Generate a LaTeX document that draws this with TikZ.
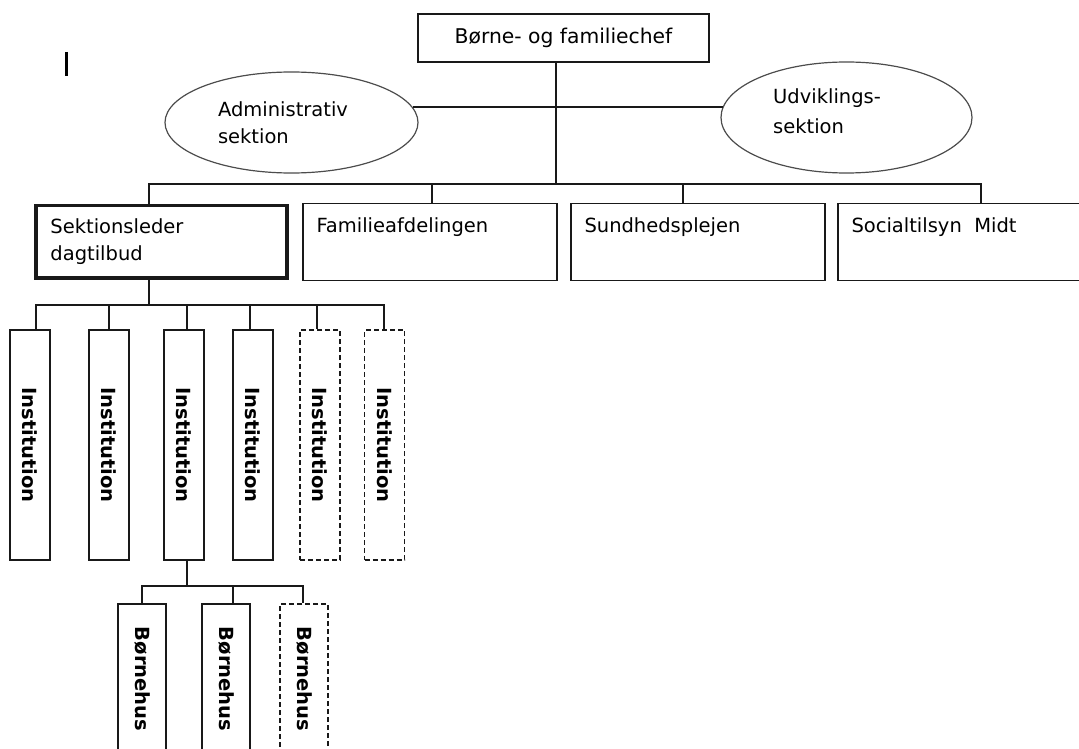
\documentclass[tikz,border=0pt]{standalone}
\usepackage{fontspec}
\setmainfont{DejaVu Sans}
\usepackage{tikz}
\usetikzlibrary{shapes.geometric}

\tikzset{
  link/.style={line width=1.4pt, draw=black!90},
  unit/.style={draw=black!90, line width=1.4pt, minimum width=254pt, minimum height=77pt, inner sep=0pt},
  staff/.style={ellipse, draw=black!70, line width=1.2pt, inner sep=0pt},
  inst/.style={draw=black!90, line width=1.4pt, minimum width=40pt, minimum height=230pt, inner sep=0pt},
  house/.style={draw=black!90, line width=1.4pt, minimum width=48pt, minimum height=150pt, inner sep=0pt},
  planned/.style={dash pattern=on 5pt off 3pt},
  toplft/.style={anchor=north west, align=left, inner sep=0pt, xshift=14pt, yshift=-15pt},
  vert/.style={anchor=center, rotate=-90, inner sep=0pt, font=\fontsize{19.5}{27}\bfseries},
}

\begin{document}
\begin{tikzpicture}[x=1pt, y=-1pt, font=\fontsize{19.5}{27}\selectfont]
  \useasboundingbox (0,0) rectangle (1079,749);
  \draw[line width=3pt] (66.5,52) -- (66.5,76);

  % management and staff
  \path
    (563.5,38) node[unit, minimum width=291pt, minimum height=48pt] (chef) {\fontsize{20.3}{27}\selectfont Børne- og familiechef}
    (291.5,122.5) node[staff, minimum width=253pt, minimum height=101pt,
      label={[anchor=center, align=left, xshift=-8.5pt, yshift=-0.5pt]center:Administrativ\\sektion}] (adm) {}
    (846.5,117.5) node[staff, minimum width=251pt, minimum height=111pt,
      label={[anchor=center, align=left, xshift=-19.5pt, yshift=6pt]center:Udviklings-\\[3pt]sektion}] (udv) {};

  % sections
  \path
    (161.5,241.5) node[unit, line width=3.5pt, minimum width=251pt, minimum height=72.5pt,
      label={[toplft, xshift=2pt]north west:Sektionsleder\\dagtilbud}] (dag) {}
    (430,242) node[unit, label={[toplft]north west:Familieafdelingen}] (fam) {}
    (698,242) node[unit, label={[toplft]north west:Sundhedsplejen}] (sund) {}
    (965,242) node[unit, label={[toplft]north west:Socialtilsyn\ \ Midt}] (soc) {};

  % institutions
  \path
    (30,445) node[inst, label={[vert]center:Institution}] (inst1) {}
    (109,445) node[inst, label={[vert]center:Institution}] (inst2) {}
    (184,445) node[inst, label={[vert]center:Institution}] (inst3) {}
    (253,445) node[inst, label={[vert]center:Institution}] (inst4) {}
    (320,445) node[inst, planned, label={[vert]center:Institution}] (inst5) {}
    (384.5,445) node[inst, planned, label={[vert]center:Institution}] (inst6) {};

  % houses under one institution
  \path
    (142,679) node[house, label={[vert]center:Børnehus}] (hus1) {}
    (226,679) node[house, label={[vert]center:Børnehus}] (hus2) {}
    (304,679) node[house, planned, label={[vert]center:Børnehus}] (hus3) {};

  % junctions
  \coordinate (hub) at (556,107);
  \coordinate (j1) at (149,184);
  \coordinate (j2) at (432,184);
  \coordinate (j3) at (683,184);
  \coordinate (j4) at (981,184);
  \coordinate (k0) at (149,305);
  \coordinate (k1) at (36,305);
  \coordinate (k2) at (109,305);
  \coordinate (k3) at (187,305);
  \coordinate (k4) at (250,305);
  \coordinate (k5) at (317,305);
  \coordinate (k6) at (384,305);
  \coordinate (m0) at (187,586);
  \coordinate (m1) at (142,586);
  \coordinate (m2) at (233,586);
  \coordinate (m3) at (303,586);

  \draw[link] (chef.south -| hub) -- (hub) -- (hub |- j1);
  \draw[link] (hub -| adm.7.3) -- (hub -| udv.175.1);
  \draw[link] (dag.north -| j1) -- (j1) -- (j4) -- (j4 |- soc.north);
  \draw[link] (j2) -- (j2 |- fam.north);
  \draw[link] (j3) -- (j3 |- sund.north);

  \draw[link] (dag.south -| k0) -- (k0);
  \draw[link] (inst1.north -| k1) -- (k1) -- (k6) -- (inst6.north -| k6);
  \draw[link] (k2) -- (inst2.north -| k2);
  \draw[link] (k3) -- (inst3.north -| k3);
  \draw[link] (k4) -- (inst4.north -| k4);
  \draw[link] (k5) -- (inst5.north -| k5);

  \draw[link] (inst3.south -| m0) -- (m0);
  \draw[link] (hus1.north -| m1) -- (m1) -- (m3) -- (hus3.north -| m3);
  \draw[link] (m2) -- (hus2.north -| m2);
\end{tikzpicture}
\end{document}
